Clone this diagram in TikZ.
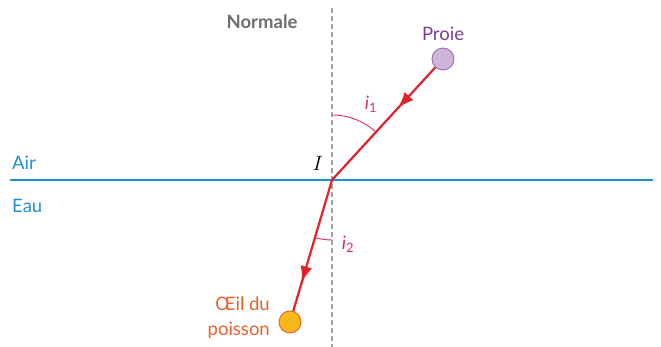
\documentclass[tikz,border=0pt]{standalone}
\usepackage{fontspec}
\setmainfont{Lato}
\usepackage{tikz}
\usetikzlibrary{arrows.meta,positioning,calc,decorations.markings}
\definecolor{raired}{HTML}{E2222B}
\definecolor{proiepurple}{HTML}{7E3C98}
\definecolor{proiefill}{HTML}{CDB6D9}
\definecolor{proiedraw}{HTML}{9A6DB2}
\definecolor{oeilorange}{HTML}{E8612C}
\definecolor{oeilfill}{HTML}{F8B81C}
\definecolor{milieublue}{HTML}{1E8FCF}
\definecolor{anglepink}{HTML}{E0276F}
\definecolor{normgray}{HTML}{6E6E6E}
\definecolor{dashgray}{HTML}{A3A3A3}
\tikzset{
  lbl/.style={font=\fontsize{18.5}{22}\selectfont,inner sep=0pt},
  rayon/.style={draw=raired,line width=2.2pt,
    postaction={decorate},
    decoration={markings,mark=at position #1 with {\arrow{Latex[length=16pt,width=12pt]}}}},
  rayon/.default=0.5,
  angle/.style={draw=anglepink,line width=.9pt},
  oeil/.style={circle,draw=oeilorange,fill=oeilfill,line width=.9pt,minimum size=22pt,inner sep=0pt},
  objet/.style={circle,draw=proiedraw,fill=proiefill,line width=.9pt,minimum size=22pt,inner sep=0pt}
}
\begin{document}
\begin{tikzpicture}[x=1pt,y=1pt]
\useasboundingbox (0,0) rectangle (661,347);
% normale et dioptre
\coordinate (I) at (332,167);
\coordinate (nh) at (332,339);
\coordinate (nb) at (332,0);
\coordinate (dg) at (10,167);
\coordinate (dd) at (653,167);
\draw[draw=dashgray,line width=2.4pt,dash pattern=on 5pt off 3pt] (nh) -- (nb);
\draw[draw=milieublue,line width=1.2pt] (dg) -- (dd);
\node[lbl,font=\fontsize{18.5}{22}\selectfont\bfseries,text=normgray] (normale) at (262,325) {Normale};
\node[lbl,text=milieublue,anchor=west] (air) at (12,184) {Air};
\node[lbl,text=milieublue,anchor=west] (eau) at (12,141) {Eau};
\node[lbl,font=\fontsize{20}{22}\selectfont] (nI) at (318,184) {$I$};
% objets
\node[objet] (proie) at (443,288) {};
\node[lbl,text=proiepurple,above=7pt of proie] (tproie) {Proie};
\node[oeil] (oeil) at (290,25) {};
\node[lbl,text=oeilorange,align=right,anchor=east,font=\fontsize{18.5}{25}\selectfont] (toeil) at (270,29) {Œil du\\poisson};
% rayons
\draw[rayon=0.36] (proie) -- (I);
\draw[rayon=0.78] (I) -- (oeil);
% angles
\draw[angle] (I) ++(90:65) arc[start angle=90,end angle=47.5,radius=65];
\draw[angle] (I) ++(270:60) arc[start angle=270,end angle=253.5,radius=60];
\node[lbl,text=anglepink] (i1) at (371,243) {\itshape i\textsubscript{\upshape 1}};
\node[lbl,text=anglepink] (i2) at (348,103) {\itshape i\textsubscript{\upshape 2}};
\end{tikzpicture}
\end{document}
